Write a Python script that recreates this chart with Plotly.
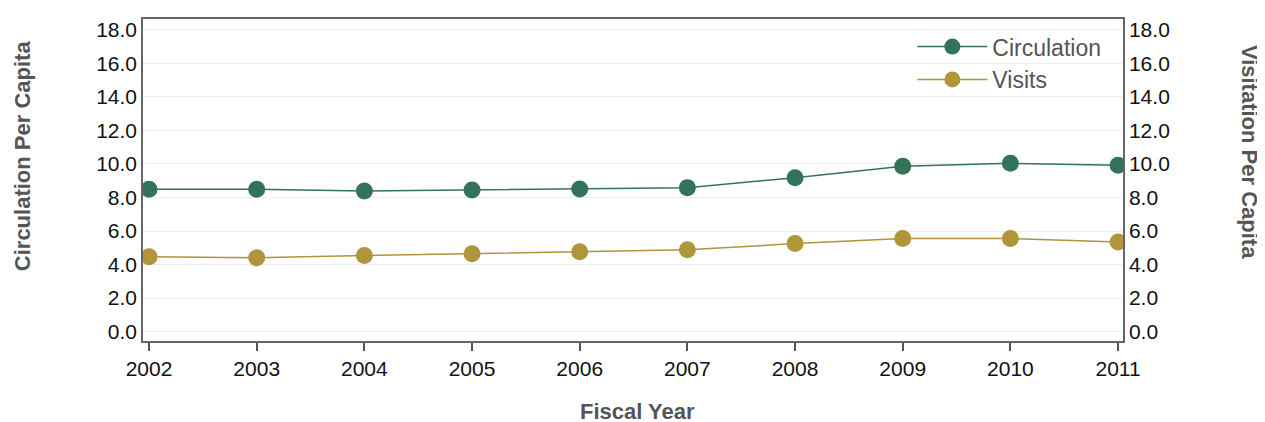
import plotly.graph_objects as go

years = [2002, 2003, 2004, 2005, 2006, 2007, 2008, 2009, 2010, 2011]
circulation = [8.49, 8.49, 8.39, 8.45, 8.51, 8.59, 9.18, 9.86, 10.04, 9.93]
visits = [4.46, 4.40, 4.54, 4.64, 4.77, 4.88, 5.25, 5.56, 5.55, 5.35]
y_ticks = [0, 2, 4, 6, 8, 10, 12, 14, 16, 18]
y_tick_labels = [f"{v:.1f}" for v in y_ticks]

GREEN = "#33735a"
GOLD = "#b0953a"
TITLE_FONT = dict(family="Liberation Sans, Arial, sans-serif", size=22, color="#555555")
TICK_FONT = dict(family="Liberation Sans, Arial, sans-serif", size=21, color="#111111")

fig = go.Figure()
fig.add_trace(go.Scatter(x=years, y=circulation, name="Circulation", mode="lines+markers",
                         line=dict(color=GREEN, width=1.5),
                         marker=dict(color=GREEN, size=17)))
fig.add_trace(go.Scatter(x=years, y=visits, name="Visits", mode="lines+markers",
                         line=dict(color=GOLD, width=1.5),
                         marker=dict(color=GOLD, size=17), yaxis="y2"))

axis_common = dict(range=[-0.56, 18.65], tickvals=y_ticks, ticktext=y_tick_labels,
                   showgrid=True, gridcolor="#ececec", gridwidth=1, zeroline=False,
                   showline=True, linecolor="#666666", linewidth=1.5, ticks="",
                   tickfont=TICK_FONT)

fig.update_layout(
    width=1265, height=422,
    margin=dict(l=135, r=150, t=9, b=89),
    plot_bgcolor="white", paper_bgcolor="white",
    xaxis=dict(range=[2001.944, 2011.046], tickvals=years, ticktext=[str(y) for y in years],
               showgrid=False, zeroline=False, showline=True, mirror=True,
               linecolor="#666666", linewidth=1.5, ticks="outside", ticklen=8,
               tickcolor="#555555", tickwidth=1.5, tickfont=TICK_FONT),
    yaxis=dict(**axis_common, mirror=True),
    yaxis2=dict(**axis_common, overlaying="y", side="right"),
    showlegend=True,
    legend=dict(x=0.983, y=0.981, xanchor="right", yanchor="top", bgcolor="rgba(0,0,0,0)",
                font=dict(family="Liberation Sans, Arial, sans-serif", size=23, color="#555555"),
                itemwidth=70, tracegroupgap=4),
    annotations=[
        dict(text="<b>Circulation Per Capita</b>", xref="paper", yref="paper",
             x=-0.1235, y=0.577, xanchor="center", yanchor="middle", textangle=-90,
             showarrow=False, font=TITLE_FONT),
        dict(text="<b>Visitation Per Capita</b>", xref="paper", yref="paper",
             x=1.129, y=0.586, xanchor="center", yanchor="middle", textangle=90,
             showarrow=False, font=TITLE_FONT),
        dict(text="<b>Fiscal Year</b>", xref="paper", yref="paper",
             x=0.505, y=-0.219, xanchor="center", yanchor="middle",
             showarrow=False, font=TITLE_FONT),
    ],
)

fig.write_html("out.html")
